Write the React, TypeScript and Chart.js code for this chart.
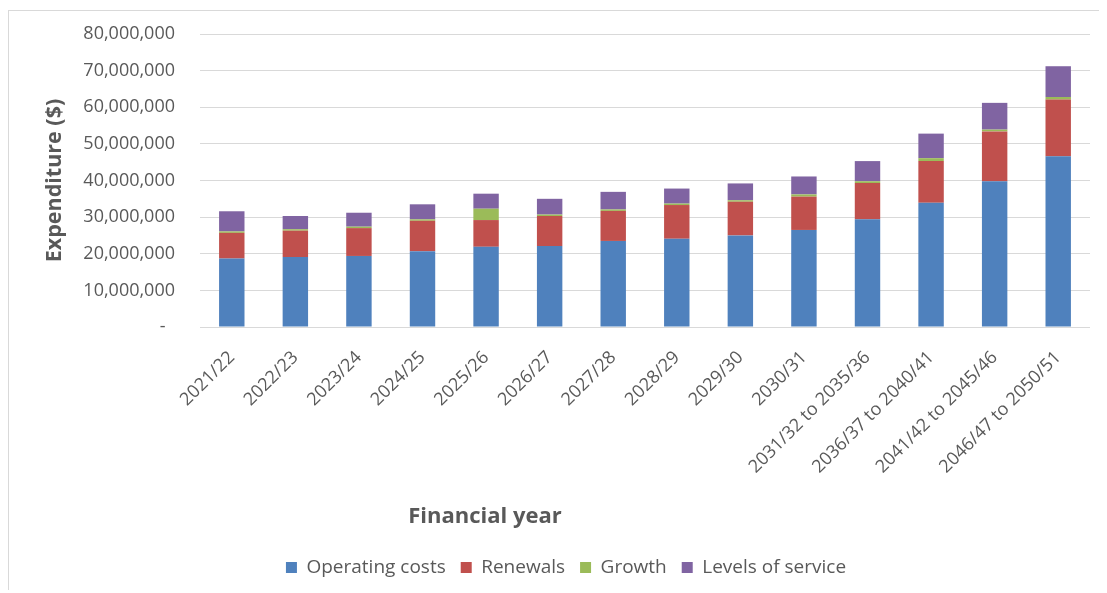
import React, { useEffect, useRef } from "react";
import { Chart, registerables } from "chart.js";

Chart.register(...registerables);

const categories = [
  "2021/22", "2022/23", "2023/24", "2024/25", "2025/26", "2026/27", "2027/28",
  "2028/29", "2029/30", "2030/31", "2031/32 to 2035/36", "2036/37 to 2040/41",
  "2041/42 to 2045/46", "2046/47 to 2050/51",
];

const operatingCosts = [18700000, 19100000, 19400000, 20700000, 21900000, 22100000, 23500000, 24100000, 25000000, 26500000, 29400000, 33900000, 39800000, 46600000];
const renewals = [7000000, 7200000, 7600000, 8300000, 7300000, 8200000, 8200000, 9200000, 9200000, 9100000, 9900000, 11400000, 13600000, 15500000];
const growth = [400000, 400000, 400000, 400000, 3100000, 400000, 400000, 400000, 400000, 600000, 500000, 800000, 500000, 700000];
const levelsOfService = [5500000, 3600000, 3800000, 4100000, 4100000, 4300000, 4800000, 4100000, 4600000, 4900000, 5500000, 6700000, 7300000, 8400000];

const seriesNames = ["Operating costs", "Renewals", "Growth", "Levels of service"];
const seriesColors = ["#4F81BD", "#C0504D", "#9BBB59", "#8064A2"];

const yTicks = [0, 10000000, 20000000, 30000000, 40000000, 50000000, 60000000, 70000000, 80000000];

const xTitle = "Financial year";
const yTitle = "Expenditure ($)";

const FONT = "'Open Sans', 'Noto Sans', sans-serif";
const TEXT = "#595959";

export default function App() {
  const ref = useRef<HTMLCanvasElement>(null);

  useEffect(() => {
    if (!ref.current) return;
    const xTitlePlugin = {
      id: "xTitlePlugin",
      afterDraw(chart: any) {
        const ctx = chart.ctx;
        ctx.save();
        ctx.font = `bold 22px ${FONT}`;
        ctx.fillStyle = TEXT;
        ctx.textAlign = "center";
        ctx.textBaseline = "middle";
        ctx.fillText(xTitle, 476, 506);
        ctx.restore();
      },
    };
    const data = [operatingCosts, renewals, growth, levelsOfService];
    const chart = new Chart(ref.current, {
      type: "bar",
      data: {
        labels: categories,
        datasets: data.map((d, i) => ({
          label: seriesNames[i],
          data: d,
          backgroundColor: seriesColors[i],
          borderWidth: 0,
          barPercentage: 0.4,
          categoryPercentage: 1,
        })),
      },
      options: {
        responsive: false,
        animation: false,
        layout: { padding: { top: 23, right: 18, bottom: 4, left: 33 } },
        plugins: {
          tooltip: { enabled: false },
          legend: {
            position: "bottom",
            labels: {
              font: { family: FONT, size: 19 },
              color: TEXT,
              boxWidth: 11,
              boxHeight: 11,
              padding: 15,
            },
          },
        },
        scales: {
          x: {
            stacked: true,
            grid: { display: false, drawTicks: false },
            border: { display: false },
            ticks: {
              autoSkip: false,
              minRotation: 45,
              maxRotation: 45,
              padding: 20,
              font: { family: FONT, size: 18 },
              color: TEXT,
            },
            afterFit(scale: any) {
              scale.height = 216;
            },
          },
          y: {
            stacked: true,
            min: 0,
            max: 80000000,
            afterBuildTicks(scale: any) {
              scale.ticks = yTicks.map((v) => ({ value: v }));
            },
            grid: { color: "#d9d9d9", lineWidth: 1, drawTicks: false },
            border: { display: false },
            ticks: {
              padding: 25,
              font: { family: FONT, size: 18 },
              color: TEXT,
              callback: (v: any) => (Number(v) === 0 ? "-  " : Number(v).toLocaleString("en-US")),
            },
            title: {
              display: true,
              text: yTitle,
              font: { family: FONT, size: 21.5, weight: "bold" },
              color: TEXT,
              padding: { top: 0, bottom: 0 },
            },
            afterFit(scale: any) {
              scale.width = 158;
              scale.paddingTop = 0;
              scale.paddingBottom = 0;
            },
          },
        },
      },
      plugins: [xTitlePlugin],
    });
    return () => chart.destroy();
  }, []);

  return (
    <div style={{ position: "relative", top: 2, width: 1099, height: 580, border: "1px solid #d9d9d9" }}>
      <canvas ref={ref} width={1099} height={580} style={{ display: "block" }} />
    </div>
  );
}
